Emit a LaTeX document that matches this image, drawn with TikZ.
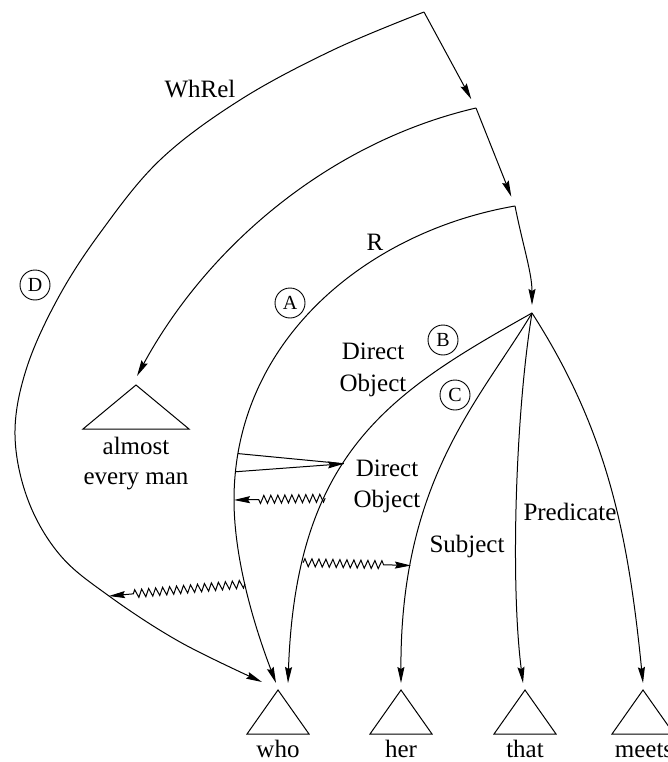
\documentclass[tikz,border=0pt]{standalone}
\usepackage{fontspec}
\setmainfont{Liberation Serif}
\usetikzlibrary{arrows.meta,decorations.pathmorphing}
\begin{document}
\begin{tikzpicture}[x=1pt,y=-1pt,line width=1pt,
  tip/.style={-{Stealth[length=16pt,width=7pt,inset=2pt]}},
  lbl/.style={inner sep=0pt,anchor=base,font=\fontsize{25}{30}\selectfont},
  circ/.style={draw,circle,minimum size=30pt,inner sep=0pt,line width=0.9pt,font=\fontsize{20}{20}\selectfont},
  zz/.style n args={2}{decorate,decoration={zigzag,segment length=7pt,amplitude=4pt,pre length=#1,post length=#2}},
  tri/.style={line width=1pt,line join=miter}
]
\useasboundingbox[fill=white] (0,0) rectangle (668,762);

% key points
\coordinate (p1) at (424,12);
\coordinate (p2) at (476,108);
\coordinate (p3) at (515,206);
\coordinate (p4) at (532,313);
\coordinate (dc) at (15,435);
\coordinate (rl) at (234,500);
\coordinate (dz3) at (109,596);

% triangles (apexes)
\coordinate (amA) at (136,385);
\coordinate (whoA) at (278,690);
\coordinate (herA) at (401,690);
\coordinate (thatA) at (525,690);
\coordinate (meetsA) at (643,690);
% arrow targets
\coordinate (amT) at (137,376);
\coordinate (whoD) at (262,682);
\coordinate (whoR) at (276,683);
\coordinate (whoB) at (288,683);
\coordinate (herT) at (401,683);
\coordinate (thatT) at (523,683);
\coordinate (meetsT) at (643,683);

\draw[tri] (amA) -- ++(-53,44) -- ++(106,0) -- cycle;
\draw[tri] (whoA) -- ++(-31,44) -- ++(62,0) -- cycle;
\draw[tri] (herA) -- ++(-31,44) -- ++(62,0) -- cycle;
\draw[tri] (thatA) -- ++(-31,44) -- ++(62,0) -- cycle;
\draw[tri] (meetsA) -- ++(-31,44) -- ++(62,0) -- cycle;

% spine arrows
\draw[tip,shorten >=10pt] (p1) -- (p2);
\draw[tip,shorten >=10pt] (p2) -- (p3);
\draw[tip,shorten >=8pt] (p3) .. controls +(8,40) and +(0,-40) .. (p4);

% WhRel / D curve
\draw[tip] plot[smooth,tension=0.6] coordinates {(p1) (333,50) (240,100)
  (160,160) (100,233) (57,300) (26,370) (dc) (28,500) (60,555) (dz3)
  (180,642) (whoD)};

% arc to almost every man
\draw[tip] (p2) .. controls (330,142) and (208,245.5) .. (amT);

% R arc
\draw[tip] (p3) .. controls (367.25,231.5) and (234,340) .. (rl)
  coordinate[pos=0.9] (w1) coordinate[pos=0.94] (w2)
  .. controls (234,560) and (255,628) .. (whoR) coordinate[pos=0.45] (rz3);

% B arc
\draw[tip] (p4) .. controls (392.8,391.4) and (296,450) .. (whoB)
  coordinate[pos=0.57] (bw) coordinate[pos=0.66] (bz1) coordinate[pos=0.8] (bz2);

% C arc
\draw[tip] (p4) .. controls (480,400) and (400,480) .. (herT)
  coordinate[pos=0.78] (cz2);

% Predicate
\draw[tip] (p4) .. controls (516,410) and (510,580) .. (thatT);

% to meets
\draw[tip] (p4) .. controls (607.6,430.6) and (628,534) .. (meetsT);

% wedge arrow
\draw (w1) -- (bw);
\draw[tip] (w2) -- (bw);

% zigzag arrows
\draw[tip,zz={0pt}{22pt}] (bz1) -- (rl);
\draw[tip,zz={0pt}{25pt}] (bz2) -- (cz2);
\draw[tip,zz={0pt}{23pt}] (rz3) -- (dz3);

% labels
\node[lbl] (lwh) at (200,98) {WhRel};
\node[lbl] (lr) at (375,250) {R};
\node[lbl] (ld1) at (373,359) {Direct};
\node[lbl] (lo1) at (373,391) {Object};
\node[lbl] (ld2) at (387,476) {Direct};
\node[lbl] (lo2) at (387,507) {Object};
\node[lbl] (lsub) at (467,552) {Subject};
\node[lbl] (lpred) at (570,520) {Predicate};
\node[lbl] (lal) at (136,454) {almost};
\node[lbl] (lev) at (136,484) {every man};
\node[lbl] (lwho) at (278,757) {who};
\node[lbl] (lher) at (401,757) {her};
\node[lbl] (lthat) at (525,757) {that};
\node[lbl] (lmeets) at (644,757) {meets};

\node[circ] (cD) at (35,285) {D};
\node[circ] (cA) at (290,303) {A};
\node[circ] (cB) at (443,340) {B};
\node[circ] (cC) at (455,395) {C};
\end{tikzpicture}
\end{document}
